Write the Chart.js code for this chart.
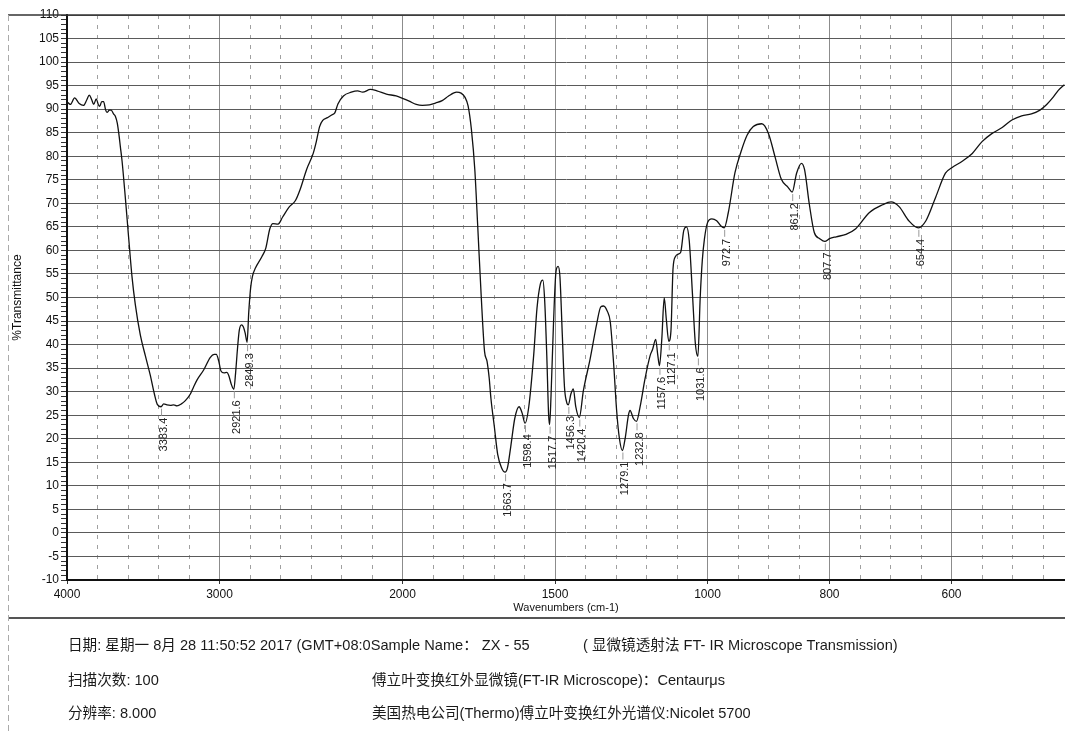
<!DOCTYPE html>
<html>
<head>
<meta charset="utf-8">
<title>FT-IR ZX-55</title>
<script src="https://cdn.jsdelivr.net/npm/chart.js@4.4.0/dist/chart.umd.min.js"></script>
<style>
    body { margin: 0; background: #fff; }
    #hoja { position: relative; width: 1065px; height: 734px; overflow: hidden; }
    #espectro { position: absolute; left: 0; top: 0; }
    .info {
        position: absolute;
        font: 14.6px 'Liberation Sans', 'Noto Sans CJK SC', sans-serif;
        color: #1a1a1a;
        white-space: nowrap;
        line-height: 16px;
    }
</style>
</head>
<body>
<div id="hoja">
    <canvas id="espectro" width="1065" height="734"></canvas>
    <div class="info" style="left:68px; top:637px">日期: 星期一 8月 28 11:50:52 2017 (GMT+08:0Sample Name： ZX - 55</div>
    <div class="info" style="left:583px; top:637px">( 显微镜透射法 FT- IR Microscope Transmission)</div>
    <div class="info" style="left:68px; top:672px">扫描次数: 100</div>
    <div class="info" style="left:372px; top:672px">傅立叶变换红外显微镜(FT-IR Microscope)：Centaurμs</div>
    <div class="info" style="left:68px; top:705px">分辨率: 8.000</div>
    <div class="info" style="left:372px; top:705px">美国热电公司(Thermo)傅立叶变换红外光谱仪:Nicolet 5700</div>
</div>
<script>
// Número de onda (cm-1) del espectro
const numerosOnda = [
    4000, 3978, 3950, 3920, 3892, 3870, 3854, 3838, 3825, 3808, 3795, 3786, 3772, 3760, 3748, 3738,
    3722, 3710, 3695, 3683, 3670, 3661, 3650, 3639, 3617, 3596, 3574, 3552, 3519, 3486, 3454, 3427,
    3408, 3383.4, 3366, 3345, 3322, 3300, 3279, 3250, 3224, 3191, 3170, 3147, 3104, 3060, 3035, 3021,
    3005, 2992, 2975, 2960, 2950, 2935, 2921.6, 2912, 2902, 2892, 2880, 2870, 2860, 2849.3, 2840, 2830,
    2820, 2803, 2768, 2747, 2725, 2708, 2680, 2655, 2620, 2585, 2559, 2524, 2488, 2471, 2453, 2436,
    2410, 2385, 2370, 2353, 2323, 2280, 2245, 2218, 2175, 2140, 2088, 2035, 2000, 1978, 1955, 1935,
    1912, 1892, 1870, 1849, 1823, 1808, 1795, 1785, 1774, 1763, 1753, 1742, 1731, 1723, 1716, 1710,
    1699, 1688, 1675, 1663.7, 1656, 1645, 1632, 1618, 1608, 1598.4, 1586, 1570, 1559, 1548, 1540, 1534,
    1527, 1521, 1517.7, 1513, 1505, 1497, 1490, 1484, 1476, 1469, 1462, 1456.3, 1448, 1440, 1432, 1420.4,
    1407, 1385, 1363, 1350, 1341, 1328, 1319, 1308, 1298, 1289, 1279.1, 1270, 1259, 1254, 1243, 1232.8,
    1221, 1205, 1188, 1180, 1170, 1163, 1157.6, 1150, 1142, 1135, 1127.1, 1120, 1113, 1105, 1096, 1088,
    1078, 1069, 1060, 1049, 1040, 1031.6, 1024, 1017, 1010, 1000, 993, 985, 978, 972.7, 966, 955,
    945, 935, 925, 911, 900, 889, 879, 868, 861.2, 854, 846, 841, 833, 825, 816, 807.7,
    800, 789, 773, 757, 735, 713, 699, 686, 670, 654.4, 642, 626, 610, 599, 583, 566,
    550, 534, 517, 501, 485, 469, 455, 444, 433, 425, 415
]

// % de transmitancia en cada número de onda
const transmitancia = [
    91.6, 91.0, 92.4, 91.2, 90.8, 92.0, 93.0, 92.0, 91.0, 92.2, 91.0, 90.6, 91.6, 91.6, 90.0, 89.3,
    89.8, 89.8, 89.0, 88.5, 87.0, 85.0, 82.0, 79.0, 71.0, 62.8, 54.5, 48.5, 42.0, 37.6, 33.5, 29.5,
    27.3, 26.8, 27.4, 27.2, 27.1, 27.2, 27.0, 27.4, 28.1, 29.5, 31.0, 32.5, 34.6, 37.3, 37.9, 37.9,
    36.5, 34.4, 34.0, 34.1, 33.5, 31.5, 30.5, 34.0, 39.0, 43.0, 44.2, 43.8, 42.5, 40.5, 47.0, 52.0,
    54.5, 56.3, 58.7, 60.5, 64.6, 65.7, 65.6, 67.1, 69.2, 70.6, 73.0, 77.2, 80.6, 83.1, 86.3, 87.6,
    88.2, 88.8, 89.2, 91.1, 92.8, 93.6, 93.9, 93.6, 94.2, 93.9, 93.2, 92.8, 92.3, 91.7, 91.0, 90.8,
    90.9, 91.3, 91.8, 92.8, 93.6, 93.4, 92.5, 90.7, 85.6, 77.2, 64.6, 50.3, 38.5, 36.5, 33.0, 28.5,
    22.6, 16.7, 13.8, 12.9, 13.8, 18.4, 24.3, 26.8, 25.5, 23.3, 26.8, 37.7, 47.8, 52.9, 53.7, 49.5,
    37.7, 25.1, 23.0, 29.3, 44.5, 55.4, 56.6, 54.5, 41.9, 31.0, 27.8, 27.2, 29.5, 30.6, 26.8, 24.5,
    30.2, 36.9, 44.5, 48.0, 48.2, 47.0, 44.9, 36.1, 26.0, 20.1, 17.5, 20.1, 25.1, 26.0, 24.3, 23.7,
    26.8, 32.7, 37.7, 39.0, 41.1, 37.7, 35.5, 41.1, 49.9, 45.3, 40.7, 42.8, 56.2, 58.7, 59.2, 59.6,
    64.2, 65.0, 62.1, 50.3, 40.3, 37.5, 50.0, 58.0, 62.5, 65.9, 66.7, 66.3, 65.2, 64.8, 68.0, 76.5,
    81.0, 84.5, 86.3, 86.9, 84.8, 79.7, 75.1, 73.4, 72.4, 76.4, 78.5, 77.2, 69.7, 63.8, 62.5, 61.9,
    62.5, 62.9, 63.4, 64.6, 68.0, 69.7, 70.3, 69.3, 66.3, 64.8, 66.3, 71.3, 76.4, 77.6, 78.9, 80.6,
    83.1, 84.8, 86.1, 87.7, 88.6, 89.0, 89.8, 91.0, 92.6, 94.0, 95.2
]

// picos marcados en el espectro
const picos = [3383.4, 2921.6, 2849.3, 1663.7, 1598.4, 1517.7, 1456.3, 1420.4, 1279.1, 1232.8,
    1157.6, 1127.1, 1031.6, 972.7, 861.2, 807.7, 654.4]

// números de onda con etiqueta en el eje x
const etiquetasX = [4000, 3000, 2000, 1500, 1000, 800, 600]

// división de la rejilla que corresponde a cada número de onda (escala por tramos)
const tramosOnda = [4000, 3000, 2000, 1500, 1000, 800, 600, 400]
const tramosDivision = [0, 5, 11, 16, 21, 25, 29, 33]

const ondaMinima = 414

const fuente = "'Liberation Sans', Arial, sans-serif"

// convierte número de onda -> división de la rejilla
const ondaADivision = (onda) => {
    for (let i = 0; i < tramosOnda.length - 1; i++) {
        if (onda >= tramosOnda[i + 1] || i === tramosOnda.length - 2) {
            const o1 = tramosOnda[i], o2 = tramosOnda[i + 1]
            const d1 = tramosDivision[i], d2 = tramosDivision[i + 1]
            return d1 + (o1 - onda) / (o1 - o2) * (d2 - d1)
        }
    }
}

// convierte división de la rejilla -> número de onda
const divisionAOnda = (division) => {
    for (let i = 0; i < tramosDivision.length - 1; i++) {
        if (division <= tramosDivision[i + 1] || i === tramosDivision.length - 2) {
            const o1 = tramosOnda[i], o2 = tramosOnda[i + 1]
            const d1 = tramosDivision[i], d2 = tramosDivision[i + 1]
            return o1 - (division - d1) / (d2 - d1) * (o1 - o2)
        }
    }
}

const divisionFinal = ondaADivision(ondaMinima)
const esEtiqueta = (valor) => etiquetasX.includes(Math.round(valor))

// escala del eje x: divisiones iguales en pantalla, número de onda por tramos
class EscalaOnda extends Chart.LinearScale {
    static id = 'onda'

    buildTicks() {
        const marcas = []
        for (let d = 0; d <= Math.floor(divisionFinal); d++) {
            marcas.push({ value: divisionAOnda(d) })
        }
        return marcas
    }

    getPixelForValue(valor) {
        return this.getPixelForDecimal(ondaADivision(valor) / divisionFinal)
    }

    getValueForPixel(pixel) {
        return divisionAOnda(this.getDecimalForPixel(pixel) * divisionFinal)
    }
}
Chart.register(EscalaOnda)

// etiquetas de picos y marco de la hoja
const etiquetasPicos = {
    id: 'etiquetasPicos',
    afterDatasetsDraw(chart) {
        const { ctx, scales: { x, y } } = chart
        ctx.save()
        ctx.font = `11px ${fuente}`
        ctx.fillStyle = '#222'
        ctx.textAlign = 'right'
        ctx.textBaseline = 'middle'
        picos.forEach(onda => {
            const t = transmitancia[numerosOnda.indexOf(onda)]
            const px = x.getPixelForValue(onda)
            const py = y.getPixelForValue(t)
            ctx.strokeStyle = '#999'
            ctx.lineWidth = 1
            ctx.beginPath()
            ctx.moveTo(px + 0.5, py + 2)
            ctx.lineTo(px + 0.5, py + 9)
            ctx.stroke()
            ctx.save()
            ctx.translate(px + 3, py + 11)
            ctx.rotate(-Math.PI / 2)
            ctx.fillText(onda.toFixed(1), 0, 0)
            ctx.restore()
        })
        ctx.restore()
    },
    afterDraw(chart) {
        const { ctx, chartArea } = chart
        ctx.save()
        // borde superior
        ctx.strokeStyle = '#333'
        ctx.lineWidth = 1.5
        ctx.beginPath()
        ctx.moveTo(8, chartArea.top)
        ctx.lineTo(1065, chartArea.top)
        ctx.stroke()
        // línea bajo el gráfico
        ctx.strokeStyle = '#555'
        ctx.lineWidth = 2
        ctx.beginPath()
        ctx.moveTo(8, 618)
        ctx.lineTo(1065, 618)
        ctx.stroke()
        // borde izquierdo punteado
        ctx.strokeStyle = '#aaa'
        ctx.lineWidth = 1
        ctx.setLineDash([6, 4])
        ctx.beginPath()
        ctx.moveTo(8.5, chartArea.top)
        ctx.lineTo(8.5, 734)
        ctx.stroke()
        ctx.restore()
    }
}

new Chart(document.getElementById('espectro'), {
    type: 'line',
    data: {
        datasets: [{
            data: numerosOnda.map((onda, i) => ({ x: onda, y: transmitancia[i] })),
            borderColor: '#111',
            borderWidth: 1.3,
            pointRadius: 0,
            cubicInterpolationMode: 'monotone',
            fill: false
        }]
    },
    options: {
        responsive: false,
        animation: false,
        layout: { padding: { top: 15, right: 0, bottom: 114, left: 0 } },
        plugins: {
            legend: { display: false },
            tooltip: { enabled: false }
        },
        scales: {
            x: {
                type: 'onda',
                min: ondaMinima,
                max: 4000,
                afterFit: escala => {
                    escala.height = 40
                    escala.paddingLeft = 0
                    escala.paddingRight = 0
                },
                ticks: {
                    autoSkip: false,
                    maxRotation: 0,
                    padding: 3,
                    color: '#111',
                    font: { family: fuente, size: 12 },
                    callback: valor => esEtiqueta(valor) ? String(Math.round(valor)) : ''
                },
                grid: {
                    color: ctx => ctx.tick && esEtiqueta(ctx.tick.value) ? '#8c8c8c' : '#a0a0a0',
                    lineWidth: 1,
                    tickLength: 4,
                    tickColor: ctx => ctx.tick && esEtiqueta(ctx.tick.value) ? '#333' : 'rgba(0,0,0,0)'
                },
                border: {
                    color: '#111',
                    width: 2,
                    dash: ctx => ctx.tick && !esEtiqueta(ctx.tick.value) ? [4, 6] : []
                },
                title: {
                    display: true,
                    text: 'Wavenumbers (cm-1)',
                    color: '#111',
                    font: { family: fuente, size: 11 },
                    padding: { top: 0, bottom: 5 }
                }
            },
            y: {
                min: -10,
                max: 110,
                afterBuildTicks: escala => {
                    escala.ticks = Array.from({ length: 121 }, (_, i) => ({ value: i - 10 }))
                },
                afterFit: escala => {
                    escala.width = 67
                    escala.paddingTop = 0
                    escala.paddingBottom = 0
                },
                ticks: {
                    autoSkip: false,
                    padding: 2,
                    color: '#111',
                    font: { family: fuente, size: 12 },
                    callback: valor => valor % 5 === 0 ? String(valor) : ''
                },
                grid: {
                    color: ctx => ctx.tick && ctx.tick.value % 5 === 0 ? '#5a5a5a' : 'rgba(0,0,0,0)',
                    lineWidth: 1,
                    tickLength: 6,
                    tickColor: '#333'
                },
                border: { color: '#111', width: 2 },
                title: {
                    display: true,
                    text: '%Transmittance',
                    color: '#111',
                    font: { family: fuente, size: 12 },
                    padding: { top: 10, bottom: 0 }
                }
            }
        }
    },
    plugins: [etiquetasPicos]
})
</script>
</body>
</html>
